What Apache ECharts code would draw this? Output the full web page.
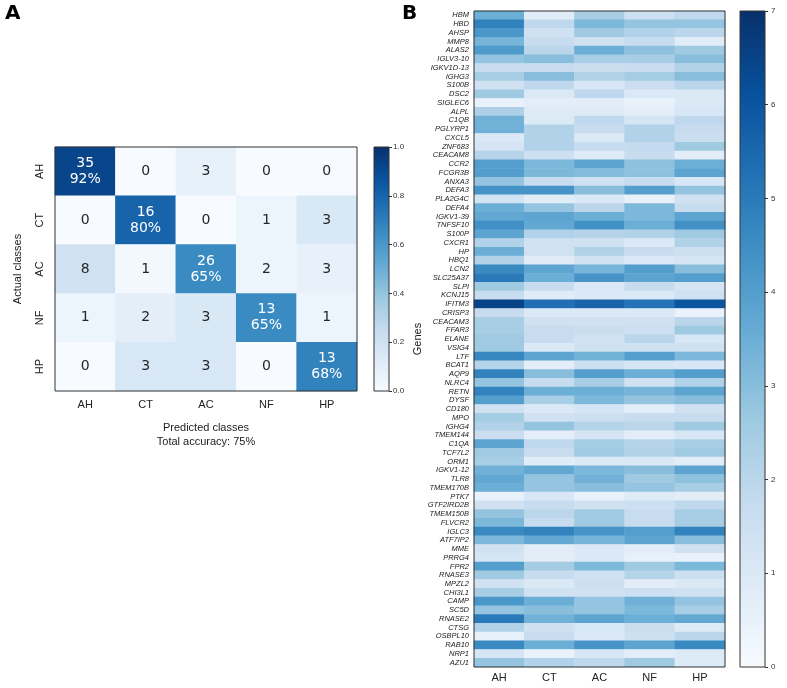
<!DOCTYPE html>
<html><head><meta charset="utf-8">
<script src="https://cdn.jsdelivr.net/npm/echarts@6/dist/echarts.min.js"></script>
<style>html,body{margin:0;padding:0;background:#fff}#c{width:787px;height:688px}</style>
</head><body><div id="c"></div>
<script>
// ---------- DATA ----------
const classes = ['AH', 'CT', 'AC', 'NF', 'HP'];
const confusionCounts = [
  [35, 0, 3, 0, 0],
  [0, 16, 0, 1, 3],
  [8, 1, 26, 2, 3],
  [1, 2, 3, 13, 1],
  [0, 3, 3, 0, 13]
];
const accuracyLabel = 'Total accuracy: 75%';
const cmTicks = [0, 0.2, 0.4, 0.6, 0.8, 1.0];
const geneTicks = [0, 1, 2, 3, 4, 5, 6, 7];
const genes = ['HBM','HBD','AHSP','MMP8','ALAS2','IGLV3-10','IGKV1D-13','IGHG3','S100B','DSC2',
  'SIGLEC6','ALPL','C1QB','PGLYRP1','CXCL5','ZNF683','CEACAM8','CCR2','FCGR3B','ANXA3',
  'DEFA3','PLA2G4C','DEFA4','IGKV1-39','TNFSF10','S100P','CXCR1','HP','HBQ1','LCN2',
  'SLC25A37','SLPI','KCNJ15','IFITM3','CRISP3','CEACAM3','FFAR3','ELANE','VSIG4','LTF',
  'BCAT1','AQP9','NLRC4','RETN','DYSF','CD180','MPO','IGHG4','TMEM144','C1QA',
  'TCF7L2','ORM1','IGKV1-12','TLR8','TMEM170B','PTK7','GTF2IRD2B','TMEM150B','FLVCR2','IGLC3',
  'ATF7IP2','MME','PRRG4','FPR2','RNASE3','MPZL2','CHI3L1','CAMP','SC5D','RNASE2',
  'CTSG','OSBPL10','RAB10','NRP1','AZU1'];
const exprAH = [3.5,4.8,4.2,3.3,4.1,2.8,1.7,2.4,1.4,2.6,
  0.5,2.3,3.4,3.4,1.0,1.2,2.1,4.0,4.0,2.8,
  4.3,1.3,3.5,3.7,4.4,3.8,2.2,3.5,2.2,4.6,
  5.0,2.6,1.7,6.5,1.7,2.4,2.4,2.6,2.6,4.7,
  2.1,4.8,2.8,4.8,4.0,1.4,2.5,2.2,1.6,3.8,
  2.6,2.4,3.4,3.7,3.5,0.5,1.4,2.8,3.2,4.6,
  3.2,1.4,1.2,4.0,2.6,1.4,2.4,4.2,2.8,5.0,
  2.2,0.55,4.6,1.2,2.8];
const exprCT = [0.8,1.9,1.4,1.7,2.0,3.0,1.7,3.0,1.9,1.0,
  0.7,0.9,0.95,2.2,2.2,2.2,1.5,3.2,3.2,1.7,
  4.3,0.75,2.8,3.8,3.7,2.2,1.4,1.4,0.85,3.8,
  3.5,1.7,0.8,5.3,1.0,1.4,1.7,1.7,1.0,3.8,
  0.75,3.0,1.7,3.5,2.4,1.0,1.4,2.8,0.7,1.9,
  1.7,0.8,3.7,2.8,2.8,1.1,1.7,2.0,1.7,4.8,
  3.7,0.75,0.75,2.5,1.7,1.0,1.4,3.5,3.0,3.4,
  1.4,1.7,3.5,0.5,2.2];
const exprAC = [2.4,3.2,2.6,1.4,3.5,2.4,1.6,2.2,1.1,1.9,
  0.7,0.9,1.9,1.7,1.0,1.7,0.85,3.8,3.1,1.4,
  3.0,1.0,2.0,3.5,4.4,2.1,1.4,2.2,1.4,3.3,
  4.3,1.0,1.0,5.6,1.0,1.4,1.6,1.4,1.4,3.4,
  1.5,4.0,2.4,3.5,3.2,1.2,1.5,2.1,1.2,2.5,
  2.6,1.0,3.2,3.4,3.0,0.5,1.4,2.6,2.6,4.3,
  3.3,1.0,1.0,3.2,1.4,1.5,1.4,2.8,2.8,3.8,
  1.1,1.0,4.3,1.1,1.9];
const exprNF = [1.5,2.8,2.2,1.7,2.9,2.4,1.7,2.5,1.6,1.0,
  0.5,0.7,1.2,2.2,2.2,1.8,1.7,2.9,2.9,1.7,
  4.0,0.55,3.2,3.2,3.5,2.2,1.0,1.7,1.0,4.0,
  3.8,1.7,1.0,5.2,1.0,1.4,1.5,2.0,1.4,4.0,
  1.2,3.5,1.4,3.3,2.8,0.75,1.7,2.0,0.75,2.1,
  2.2,1.0,3.0,2.6,2.8,0.9,1.5,1.7,1.7,4.0,
  3.8,0.75,0.55,2.6,2.1,0.75,1.5,3.4,3.2,3.5,
  1.6,1.5,3.8,0.75,2.6];
const exprHP = [1.9,2.8,2.0,0.8,2.6,3.0,2.2,3.0,2.0,1.0,
  1.0,1.1,1.9,1.7,1.6,2.6,0.75,3.5,3.8,1.1,
  2.8,1.4,1.7,3.8,4.4,2.6,2.2,1.5,1.2,3.0,
  4.0,1.2,1.4,6.0,0.45,2.0,2.6,1.1,1.4,3.2,
  1.1,4.0,2.2,3.8,3.0,1.4,1.7,2.6,1.1,2.4,
  2.6,0.75,3.8,2.9,2.4,0.75,1.9,2.4,2.4,4.8,
  3.0,1.4,0.5,3.2,1.5,1.0,1.4,2.8,2.4,3.7,
  0.9,2.0,4.6,0.9,0.9];
const exprByClass = [exprAH, exprCT, exprAC, exprNF, exprHP];

// ---------- BUILD ----------
const blues = ['#f7fbff','#deebf7','#c6dbef','#9ecae1','#6baed6','#4292c6','#2171b5','#08519c','#08306b'];
const gradStops = blues.map((c, i) => ({offset: i / (blues.length - 1), color: c}));

const cmData = [];
confusionCounts.forEach((row, r) => {
  const tot = row.reduce((a, b) => a + b, 0);
  row.forEach((v, c) => {
    const norm = v / tot;
    cmData.push({
      value: [c, r, norm, v],
      label: {color: norm > 0.5 ? '#ffffff' : '#262626'}
    });
  });
});

const geneData = [];
genes.forEach((g, r) => {
  exprByClass.forEach((arr, c) => geneData.push([c, r, arr[r]]));
});

const chart = echarts.init(document.getElementById('c'));
const axisLabelFont = {fontFamily: 'Liberation Sans, Arial, sans-serif', color: '#222'};

chart.setOption({
  animation: false,
  backgroundColor: '#fff',
  graphic: [
    {type: 'text', left: 5, top: 4, style: {text: 'A', font: 'bold 20px "DejaVu Sans", sans-serif', fill: '#000'}},
    {type: 'text', left: 402, top: 4, style: {text: 'B', font: 'bold 20px "DejaVu Sans", sans-serif', fill: '#000'}}
  ],
  grid: [
    {left: 55, top: 147, width: 302, height: 244, show: true, z: 10, backgroundColor: 'transparent', borderColor: '#333', borderWidth: 1},
    {left: 374, top: 147, width: 15, height: 244, show: true, backgroundColor: new echarts.graphic.LinearGradient(0, 1, 0, 0, gradStops), borderColor: '#333', borderWidth: 1},
    {left: 474, top: 11, width: 251, height: 656, show: true, z: 10, backgroundColor: 'transparent', borderColor: '#333', borderWidth: 1},
    {left: 740, top: 11, width: 25, height: 656, show: true, backgroundColor: new echarts.graphic.LinearGradient(0, 1, 0, 0, gradStops), borderColor: '#333', borderWidth: 1}
  ],
  xAxis: [
    {gridIndex: 0, type: 'category', data: classes, axisLine: {show: false}, axisTick: {show: false}, splitLine: {show: false},
     axisLabel: Object.assign({fontSize: 11, margin: 8}, axisLabelFont),
     name: 'Predicted classes\n' + accuracyLabel, nameLocation: 'middle', nameGap: 30,
     nameTextStyle: Object.assign({fontSize: 11, lineHeight: 14}, axisLabelFont)},
    {gridIndex: 1, type: 'value', show: false, min: 0, max: 1},
    {gridIndex: 2, type: 'category', data: classes, axisLine: {show: false}, axisTick: {show: false}, splitLine: {show: false},
     axisLabel: Object.assign({fontSize: 11, margin: 5}, axisLabelFont)},
    {gridIndex: 3, type: 'value', show: false, min: 0, max: 1}
  ],
  yAxis: [
    {gridIndex: 0, type: 'category', data: classes, inverse: true, axisLine: {show: false}, axisTick: {show: false}, splitLine: {show: false},
     axisLabel: Object.assign({fontSize: 11, rotate: 90, margin: 10}, axisLabelFont),
     name: 'Actual classes', nameLocation: 'middle', nameGap: 32, nameRotate: 90,
     nameTextStyle: Object.assign({fontSize: 11}, axisLabelFont)},
    {gridIndex: 1, type: 'value', position: 'right', min: 0, max: 1, interval: 0.2,
     axisLine: {show: false, onZero: false}, splitLine: {show: false},
     axisTick: {show: true, length: 3, lineStyle: {color: '#333'}},
     axisLabel: {fontSize: 8, margin: 4, color: '#333', fontFamily: 'Liberation Sans, Arial, sans-serif', formatter: v => v.toFixed(1)}},
    {gridIndex: 2, type: 'category', data: genes, inverse: true, axisLine: {show: false}, axisTick: {show: false}, splitLine: {show: false},
     axisLabel: {fontSize: 7.5, fontStyle: 'italic', margin: 5, color: '#222', fontFamily: 'Liberation Sans, Arial, sans-serif', interval: 0},
     name: 'Genes', nameLocation: 'middle', nameGap: 46, nameRotate: 90,
     nameTextStyle: Object.assign({fontSize: 11}, axisLabelFont)},
    {gridIndex: 3, type: 'value', position: 'right', min: 0, max: 7, interval: 1,
     axisLine: {show: false, onZero: false}, splitLine: {show: false},
     axisTick: {show: true, length: 3, lineStyle: {color: '#333'}},
     axisLabel: {fontSize: 8, margin: 6, color: '#333', fontFamily: 'Liberation Sans, Arial, sans-serif'}}
  ],
  visualMap: [
    {type: 'continuous', show: false, seriesIndex: 0, dimension: 2, min: 0, max: 1, inRange: {color: blues}},
    {type: 'continuous', show: false, seriesIndex: 1, dimension: 2, min: 0, max: 7, inRange: {color: blues}}
  ],
  series: [
    {type: 'heatmap', xAxisIndex: 0, yAxisIndex: 0, data: cmData,
     itemStyle: {borderWidth: 0},
     label: {show: true, fontSize: 14, lineHeight: 16, fontFamily: '"DejaVu Sans", sans-serif',
       formatter: p => {
         const [c, r, norm, cnt] = p.data.value;
         return c === r ? cnt + '\n' + Math.round(norm * 100) + '%' : String(cnt);
       }},
     emphasis: {disabled: true}},
    {type: 'heatmap', xAxisIndex: 2, yAxisIndex: 2, data: geneData,
     itemStyle: {borderWidth: 0}, emphasis: {disabled: true}}
  ]
});
</script></body></html>
